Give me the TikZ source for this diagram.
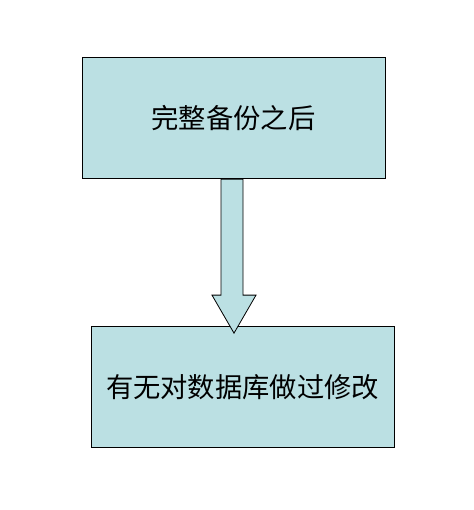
\documentclass[tikz,border=0pt]{standalone}
\usepackage{fontspec}
\usepackage{xcolor}
\usepackage{tikz}
\usetikzlibrary{arrows.meta,positioning}
\newfontfamily\cjk{Noto Sans CJK SC}
\definecolor{BoxCyan}{RGB}{187,224,227}

\begin{document}
\begin{tikzpicture}[
  x=1pt, y=1pt,
  box/.style={draw=black, line width=0.8pt, fill=BoxCyan, minimum width=303pt, minimum height=121.5pt, align=center, font=\cjk\fontsize{27.3}{31}\selectfont},
  blockarrow/.style={draw=black, line width=0.8pt, fill=BoxCyan, line join=miter}
]
\useasboundingbox (0,0) rectangle (473,510);
\node[box] (backup) at (233.5,392) {完整备份之后};
\node[box] (modify) at (242.5,123) {有无对数据库做过修改};

\draw[blockarrow] ([xshift=-12.5pt]backup.south) -- ++(0,-116) -- ++(-9,0) -- ++(22,-38)
  -- ++(22,38) -- ++(-13,0) -- ([xshift=9.5pt]backup.south) -- cycle;
\end{tikzpicture}
\end{document}
